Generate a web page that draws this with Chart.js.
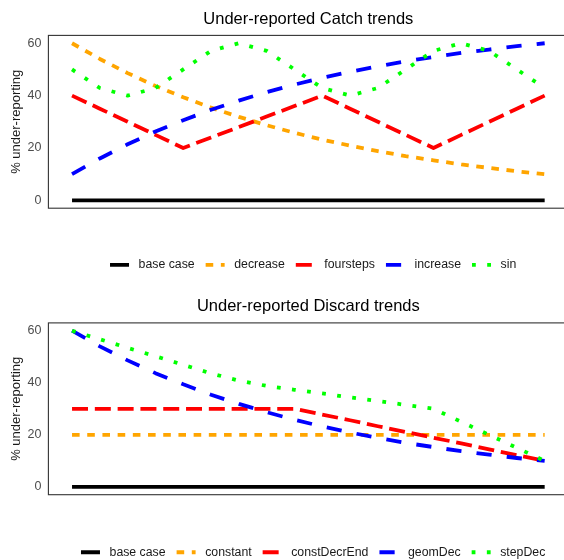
<!DOCTYPE html>
<html>
<head>
<meta charset="utf-8">
<title>Under-reporting trends</title>
<script src="https://cdn.jsdelivr.net/npm/chart.js@4.4.1/dist/chart.umd.min.js"></script>
<style>
  html, body { margin: 0; padding: 0; background: #ffffff; overflow: hidden; }
  #wrap { position: relative; width: 564px; height: 560px; overflow: hidden; }
  canvas { position: absolute; left: 0; }
</style>
</head>
<body>
<div id="wrap">
  <canvas id="catchChart" width="572" height="282" style="top:0;width:572px;height:282px"></canvas>
  <canvas id="discardChart" width="572" height="290" style="top:280px;width:572px;height:290px"></canvas>
</div>
<script>
// Simulation years (x positions of every series)
const steps = [1, 2, 3, 4, 5, 6, 7, 8, 9, 10, 11, 12, 13, 14, 15, 16, 17, 18];
const yTicks = [0, 20, 40, 60];

// Under-reported catch scenarios (% under-reporting per year)
const catchBaseCase = [0, 0, 0, 0, 0, 0, 0, 0, 0, 0, 0, 0, 0, 0, 0, 0, 0, 0];
const catchDecrease = [60, 54, 48.6, 43.7, 39.4, 35.4, 31.9, 28.7, 25.8, 23.2, 20.9, 18.8, 16.9, 15.3, 13.7, 12.4, 11.1, 10];
const catchFoursteps = [40, 35, 30, 25, 20, 24, 28, 32, 36, 40, 35, 30, 25, 20, 25, 30, 35, 40];
const catchIncrease = [10, 16, 21.4, 26.3, 30.6, 34.6, 38.1, 41.3, 44.2, 46.8, 49.1, 51.2, 53.1, 54.7, 56.3, 57.6, 58.9, 60];
const catchSin = [50, 42.9, 40, 42.9, 50, 57.1, 60, 57.1, 50, 42.9, 40, 42.9, 50, 57.1, 60, 57.1, 50, 42.9];

// Under-reported discard scenarios (% under-reporting per year)
const discardBaseCase = [0, 0, 0, 0, 0, 0, 0, 0, 0, 0, 0, 0, 0, 0, 0, 0, 0, 0];
const discardConstant = [20, 20, 20, 20, 20, 20, 20, 20, 20, 20, 20, 20, 20, 20, 20, 20, 20, 20];
const discardConstDecrEnd = [30, 30, 30, 30, 30, 30, 30, 30, 30, 27.8, 25.6, 23.3, 21.1, 18.9, 16.7, 14.4, 12.2, 10];
const discardGeomDec = [60, 54, 48.6, 43.7, 39.4, 35.4, 31.9, 28.7, 25.8, 23.2, 20.9, 18.8, 16.9, 15.3, 13.7, 12.4, 11.1, 10];
const discardStepDec = [60, 56.7, 53.4, 50.2, 46.9, 43.6, 40.8, 38.8, 37.3, 35.9, 34.4, 33, 31.5, 30, 25, 20, 15, 10];

Chart.defaults.font.family = "'Liberation Sans', Arial, sans-serif";

const LINE_W = 3.8;
const DASH = {
  solid: [],
  short: [7.6, 7.6],
  long: [16, 6.8],
  dashed: [15.2, 15.2],
  dotted: [3.8, 11.4]
};

function series(label, values, color, dash, idx, total) {
  return {
    label: label,
    data: steps.map((s, i) => ({ x: s, y: values[i] })),
    borderColor: color,
    backgroundColor: color,
    borderWidth: LINE_W,
    borderDash: dash,
    borderCapStyle: 'butt',
    borderJoinStyle: 'round',
    pointRadius: 0,
    pointHoverRadius: 0,
    tension: 0,
    fill: false,
    order: total - idx
  };
}

// Legend keys: a short stroke in each series' own colour and dash pattern
function legendItems(chart) {
  const items = Chart.defaults.plugins.legend.labels.generateLabels(chart);
  items.forEach(it => {
    const ds = chart.data.datasets[it.datasetIndex];
    it.text = ' ' + ds.label;
    it.lineDash = ds.borderDash;
    it.lineDashOffset = 0;
    it.lineWidth = ds.borderWidth;
    it.strokeStyle = ds.borderColor;
    it.fillStyle = ds.borderColor;
    it.lineCap = 'butt';
    it.pointStyle = 'line';
  });
  return items;
}

// Dark frame around the plotting panel
const panelBorder = {
  id: 'panelBorder',
  afterDatasetsDraw(chart) {
    const a = chart.chartArea;
    const ctx = chart.ctx;
    ctx.save();
    ctx.strokeStyle = '#333333';
    ctx.lineWidth = 1.1;
    ctx.setLineDash([]);
    ctx.strokeRect(a.left, a.top, a.right - a.left, a.bottom - a.top);
    ctx.restore();
  }
};

// Nudge the legend row slightly to the right
const legendNudge = {
  id: 'legendNudge',
  afterLayout(chart) {
    if (chart.legend) {
      chart.legend.left += 4.8;
      chart.legend.right += 4.8;
    }
  }
};

function makeChart(canvasId, titleText, defs, lay) {
  const datasets = defs.map((d, i) => series(d[0], d[1], d[2], d[3], i, defs.length));
  return new Chart(document.getElementById(canvasId), {
    type: 'line',
    data: { datasets: datasets },
    plugins: [panelBorder, legendNudge],
    options: {
      responsive: false,
      animation: false,
      events: [],
      layout: { padding: { left: 0, right: 3.7, top: 0, bottom: lay.padBottom } },
      scales: {
        x: {
          type: 'linear',
          min: 0.15,
          max: 18.85,
          grid: { display: false, drawTicks: false },
          border: { display: false },
          ticks: { display: false },
          afterFit(scale) { scale.height = lay.xAxisH; }
        },
        y: {
          type: 'linear',
          min: -3,
          max: 63,
          grid: { display: false, drawTicks: false },
          border: { display: false },
          afterBuildTicks(scale) { scale.ticks = yTicks.map(v => ({ value: v })); },
          ticks: {
            padding: 7,
            color: '#4d4d4d',
            font: { size: 12.5 }
          },
          title: {
            display: true,
            text: '% under-reporting',
            color: '#1a1a1a',
            font: { size: 13 },
            padding: { top: 9, bottom: 0 }
          },
          afterFit(scale) { scale.width = 48.4; }
        }
      },
      plugins: {
        title: {
          display: true,
          text: titleText,
          fullSize: false,
          color: '#000000',
          font: { size: 16.5, weight: 'normal' },
          padding: lay.titlePad
        },
        legend: {
          display: true,
          position: 'bottom',
          fullSize: false,
          labels: {
            usePointStyle: true,
            pointStyle: 'line',
            pointStyleWidth: 19,
            padding: 11,
            color: '#1a1a1a',
            font: { size: 12.3 },
            generateLabels: legendItems,
            sort: (a, b) => a.datasetIndex - b.datasetIndex
          }
        },
        tooltip: { enabled: false }
      }
    }
  });
}

makeChart('catchChart', 'Under-reported Catch trends', [
  ['base case', catchBaseCase, '#000000', DASH.solid],
  ['decrease', catchDecrease, '#FFA500', DASH.short],
  ['foursteps', catchFoursteps, '#FF0000', DASH.long],
  ['increase', catchIncrease, '#0000FF', DASH.dashed],
  ['sin', catchSin, '#00FF00', DASH.dotted]
], { titlePad: { top: 9.2, bottom: 6.4 }, xAxisH: 39.5, padBottom: 1 });

makeChart('discardChart', 'Under-reported Discard trends', [
  ['base case', discardBaseCase, '#000000', DASH.solid],
  ['constant', discardConstant, '#FFA500', DASH.short],
  ['constDecrEnd', discardConstDecrEnd, '#FF0000', DASH.long],
  ['geomDec', discardGeomDec, '#0000FF', DASH.dashed],
  ['stepDec', discardStepDec, '#00FF00', DASH.dotted]
], { titlePad: { top: 16.2, bottom: 6.9 }, xAxisH: 40.4, padBottom: 1.6 });
</script>
</body>
</html>
